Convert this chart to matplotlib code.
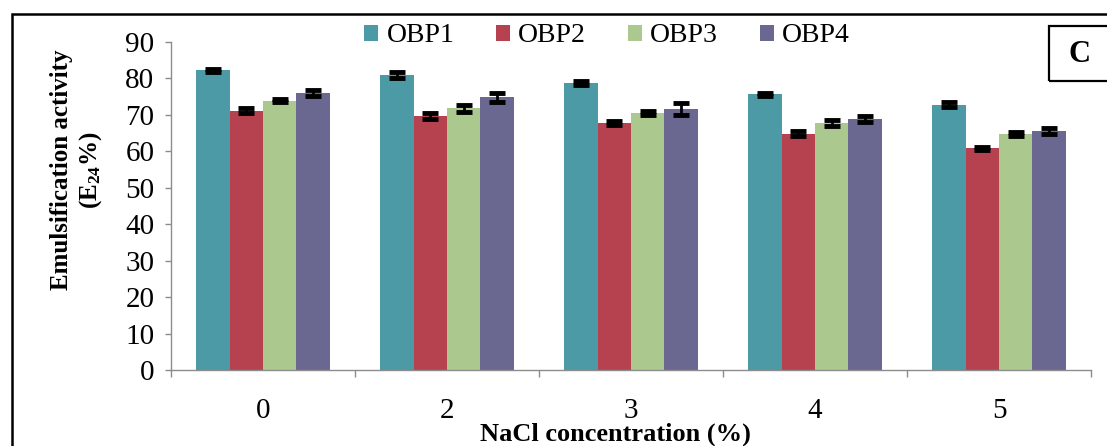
import matplotlib
matplotlib.use("Agg")
import matplotlib.pyplot as plt
import numpy as np
from matplotlib.patches import Rectangle

plt.rcParams["font.family"] = ["Liberation Serif", "DejaVu Serif"]
plt.rcParams["mathtext.fontset"] = "custom"
plt.rcParams["mathtext.rm"] = "Liberation Serif"
plt.rcParams["mathtext.bf"] = "Liberation Serif:bold"

# NaCl concentration (%) groups and emulsification activity E24 (%)
categories = ["0", "2", "3", "4", "5"]
series = ["OBP1", "OBP2", "OBP3", "OBP4"]
obp1 = [82.2, 81.0, 78.8, 75.6, 72.8]
obp2 = [71.2, 69.8, 67.8, 64.8, 60.8]
obp3 = [73.9, 71.8, 70.6, 67.8, 64.8]
obp4 = [76.0, 74.8, 71.6, 68.8, 65.6]
obp1_err = [0.5, 0.8, 0.5, 0.5, 0.7]
obp2_err = [0.6, 0.8, 0.5, 0.7, 0.5]
obp3_err = [0.5, 0.9, 0.5, 0.8, 0.5]
obp4_err = [0.7, 1.2, 1.6, 0.8, 0.9]

values = [obp1, obp2, obp3, obp4]
errors = [obp1_err, obp2_err, obp3_err, obp4_err]
colors = ["#4b9aa6", "#b6414f", "#abc98f", "#6a6891"]

W, H = 1107, 446
fig = plt.figure(figsize=(W / 100, H / 100), dpi=100)
ax = fig.add_axes([171 / W, 1 - 370 / H, 920 / W, 328 / H])

x = np.arange(len(categories))
width = 0.181
for i, (vals, errs, color, name) in enumerate(zip(values, errors, colors, series)):
    pos = x + (i - 1.5) * width
    ax.bar(pos, vals, width=width, color=color, label=name, linewidth=0)
    ax.errorbar(pos, vals, yerr=errs, fmt="none", ecolor="black",
                elinewidth=2, capsize=5.5, capthick=3.5)

ax.set_xlim(-0.5, len(categories) - 0.5)
ax.set_ylim(0, 90)
ax.set_yticks(range(0, 91, 10))
ax.set_xticks(x)
ax.set_xticklabels(categories)
ax.set_xticks(np.arange(-0.5, len(categories), 1.0), minor=True)
ax.tick_params(axis="x", which="major", length=0, pad=20, labelsize=21)
ax.tick_params(axis="x", which="minor", length=5, color="#8c8c8c", width=1)
ax.tick_params(axis="y", length=4, color="#8c8c8c", width=1, pad=8, labelsize=21)

for side in ("top", "right"):
    ax.spines[side].set_visible(False)
for side in ("left", "bottom"):
    ax.spines[side].set_color("#8c8c8c")
    ax.spines[side].set_linewidth(1)

fig.text(77 / W, 1 - 170 / H,
         "Emulsification activity\n($\\mathbf{E_{24}}$%)",
         rotation=90, ha="center", va="center", fontsize=18,
         fontweight="bold", linespacing=1.25)
fig.text(615 / W, 1 - 434 / H, "NaCl concentration (%)",
         ha="center", va="center", fontsize=19, fontweight="bold")

fig.legend(loc="center", bbox_to_anchor=(607 / W, 1 - 36 / H), ncol=4,
           frameon=False, fontsize=20, handlelength=0.5, handleheight=0.5,
           handletextpad=0.3, columnspacing=1.5, borderpad=0)

# outer panel frame and panel letter box
fig.patches.append(Rectangle((12 / W, -0.1), 1.2, 1.1 - 14 / H,
                             transform=fig.transFigure, fill=False,
                             edgecolor="black", linewidth=1.8))
fig.patches.append(Rectangle((1049 / W, 1 - 81 / H), 0.2, 55 / H,
                             transform=fig.transFigure, fill=False,
                             edgecolor="black", linewidth=1.6))
fig.text(1080 / W, 1 - 54 / H, "C", ha="center", va="center",
         fontsize=22, fontweight="bold")

fig.savefig("out.png", dpi=100)
